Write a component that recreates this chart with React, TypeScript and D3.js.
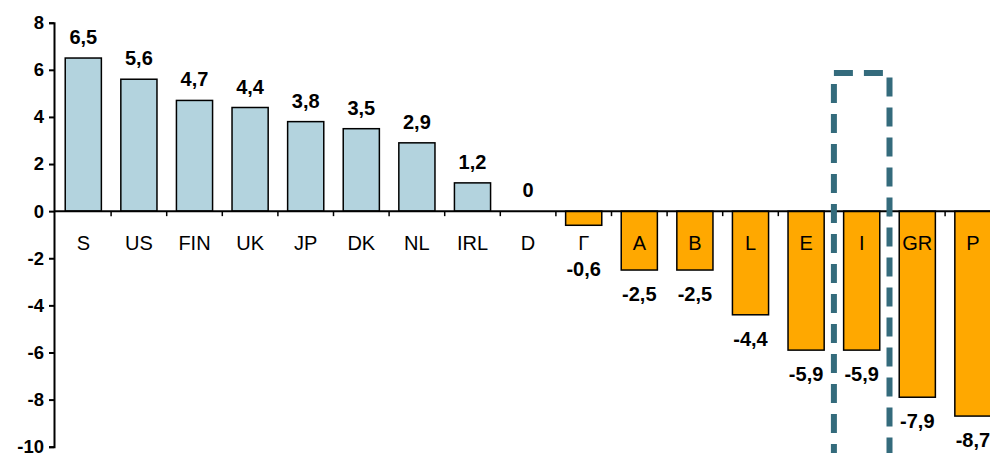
import React, { useRef, useEffect } from 'react';
import * as d3 from 'd3';

const categories = ['S', 'US', 'FIN', 'UK', 'JP', 'DK', 'NL', 'IRL', 'D', 'Γ', 'A', 'B', 'L', 'E', 'I', 'GR', 'P'];
const values = [6.5, 5.6, 4.7, 4.4, 3.8, 3.5, 2.9, 1.2, 0, -0.6, -2.5, -2.5, -4.4, -5.9, -5.9, -7.9, -8.7];
const yTicks = [8, 6, 4, 2, 0, -2, -4, -6, -8, -10];
const highlighted = 'I';

function App() {
  const ref = useRef<SVGSVGElement>(null);
  const width = 990;
  const height = 453;

  useEffect(() => {
    const svg = d3.select(ref.current);
    svg.selectAll('*').remove();

    const x = d3.scaleBand<string>()
      .domain(categories)
      .range([55.5, 55.5 + categories.length * 55.6])
      .paddingInner(0.35)
      .paddingOuter(0.175);

    const y = d3.scaleLinear().domain([-10, 8]).range([446.7, 22.7]);
    const font = 'Arial, "Liberation Sans", sans-serif';

    // bars
    svg.append('g')
      .selectAll('rect')
      .data(values)
      .join('rect')
      .attr('x', (d, i) => x(categories[i])!)
      .attr('width', x.bandwidth())
      .attr('y', d => y(Math.max(0, d)))
      .attr('height', d => Math.abs(y(d) - y(0)))
      .attr('fill', d => (d > 0 ? '#b3d3de' : '#ffa800'))
      .attr('stroke', d => (d === 0 ? 'none' : '#000'))
      .attr('stroke-width', 1.5);

    // y axis
    const yAxis = d3.axisLeft(y).tickValues(yTicks).tickSize(5).tickFormat(d => String(d));
    const ga = svg.append('g').attr('transform', 'translate(54,0)').call(yAxis);
    ga.select('.domain').attr('stroke-width', 2);
    ga.selectAll('.tick line').attr('stroke-width', 2);
    ga.selectAll('.tick text')
      .attr('x', -10)
      .attr('font-size', 18.5)
      .attr('font-weight', 'bold')
      .attr('font-family', font)
      .attr('fill', '#000');

    // x axis (zero line with boundary ticks)
    const step = x.step();
    const boundaries = categories.map((c, i) => x.range()[0] + i * step).concat([x.range()[0] + categories.length * step]);
    svg.append('line')
      .attr('x1', 54).attr('x2', width)
      .attr('y1', y(0)).attr('y2', y(0))
      .attr('stroke', '#000').attr('stroke-width', 2);
    svg.append('g')
      .selectAll('line')
      .data(boundaries.slice(1))
      .join('line')
      .attr('x1', d => d).attr('x2', d => d)
      .attr('y1', y(0)).attr('y2', y(0) + 5)
      .attr('stroke', '#000').attr('stroke-width', 1.5);

    // category labels
    svg.append('g')
      .selectAll('text')
      .data(categories)
      .join('text')
      .attr('x', d => x(d)! + x.bandwidth() / 2)
      .attr('y', y(0) + 39)
      .attr('text-anchor', 'middle')
      .attr('font-size', 20)
      .attr('font-family', font)
      .attr('fill', '#000')
      .text(d => d);

    // value labels
    svg.append('g')
      .selectAll('text')
      .data(values)
      .join('text')
      .attr('x', (d, i) => x(categories[i])! + x.bandwidth() / 2)
      .attr('y', d => (d >= 0 ? y(d) - 14 : Math.max(y(d) + 31, y(0) + 65)))
      .attr('text-anchor', 'middle')
      .attr('font-size', 20)
      .attr('font-weight', 'bold')
      .attr('font-family', font)
      .attr('fill', '#000')
      .text(d => String(d).replace('.', ','));

    // dashed highlight box
    const hx = x(highlighted)!;
    const left = hx - (step - x.bandwidth()) / 2;
    svg.append('path')
      .attr('d', `M${left},${height + 10} L${left},73 L${left + step},73 L${left + step},${height + 10}`)
      .attr('fill', 'none')
      .attr('stroke', '#346b7c')
      .attr('stroke-width', 6)
      .attr('stroke-dasharray', '19 11');
  }, []);

  return (
    <div style={{ position: 'absolute', left: 0, top: 0, width, height, background: '#fff' }}>
      <svg ref={ref} width={width} height={height} style={{ display: 'block' }}></svg>
    </div>
  );
}

export default App;
